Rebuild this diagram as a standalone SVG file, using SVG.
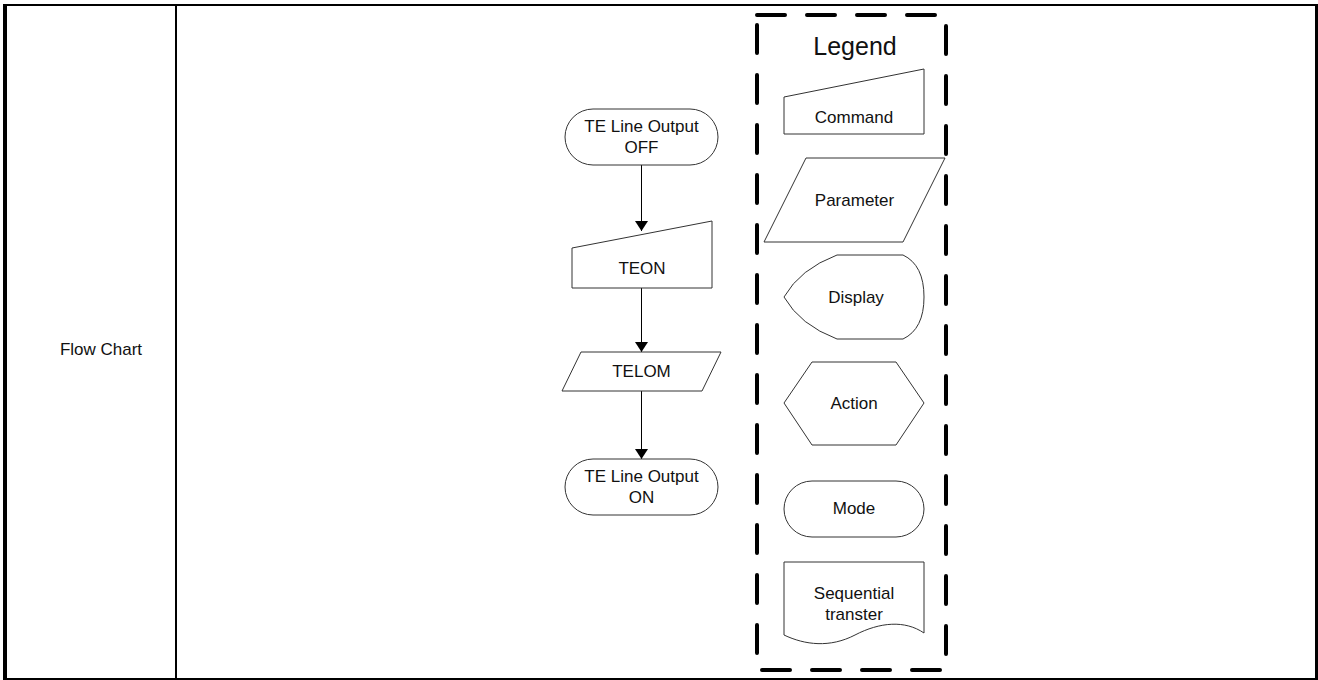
<svg xmlns="http://www.w3.org/2000/svg" width="1318" height="680" viewBox="0 0 1318 680">
<style>
.frame{fill:none;stroke:#000;}
.shape{fill:#fff;stroke:#333;stroke-width:1;}
.conn{fill:none;stroke:#000;stroke-width:1;}
.t{font-family:"Liberation Sans",Arial,sans-serif;font-size:17px;fill:#111;text-anchor:middle;dominant-baseline:central;}
.legend-box{fill:none;stroke:#000;stroke-width:4;stroke-dasharray:28 22;stroke-linecap:round;}
</style>
<defs>
<marker id="arrow" viewBox="0 0 10 13" refX="10" refY="6.5" markerWidth="10" markerHeight="13" markerUnits="userSpaceOnUse" orient="auto">
<path d="M0,0 L10,6.5 L0,13 Z" fill="#000"/>
</marker>
</defs>
<rect x="0" y="0" width="1318" height="680" fill="#fff"/>
<g id="table">
<line class="frame" x1="5" y1="4" x2="5" y2="680" stroke-width="4"/>
<line class="frame" x1="3" y1="5" x2="1318" y2="5" stroke-width="2"/>
<line class="frame" x1="1316.5" y1="4" x2="1316.5" y2="680" stroke-width="3"/>
<line class="frame" x1="3" y1="679" x2="1318" y2="679" stroke-width="2"/>
<line class="frame" x1="176" y1="5" x2="176" y2="680" stroke-width="2"/>
<text class="t" x="101" y="349">Flow Chart</text>
</g>
<g id="connectors">
<line class="conn" x1="641.5" y1="165" x2="641.5" y2="231" marker-end="url(#arrow)"/>
<line class="conn" x1="641.5" y1="288" x2="641.5" y2="352" marker-end="url(#arrow)"/>
<line class="conn" x1="641.5" y1="391" x2="641.5" y2="459" marker-end="url(#arrow)"/>
</g>
<g id="node-off">
<rect class="shape" x="565" y="109" width="153" height="56" rx="28"/>
<text class="t" x="641.5" y="126">TE Line Output</text>
<text class="t" x="641.5" y="147">OFF</text>
</g>
<g id="node-teon">
<path class="shape" d="M572,248 L712,221 L712,288 L572,288 Z"/>
<text class="t" x="642" y="268">TEON</text>
</g>
<g id="node-telom">
<path class="shape" d="M581,352 L721,352 L702,391 L562,391 Z"/>
<text class="t" x="641.5" y="371">TELOM</text>
</g>
<g id="node-on">
<rect class="shape" x="565" y="459" width="153" height="56" rx="28"/>
<text class="t" x="641.5" y="476">TE Line Output</text>
<text class="t" x="641.5" y="497">ON</text>
</g>
<g id="legend">
<rect class="legend-box" x="757" y="15" width="189" height="655"/>
<text class="t" x="855" y="46" style="font-size:25px">Legend</text>
</g>
<g id="legend-command">
<path class="shape" d="M784,97 L924,69 L924,134 L784,134 Z"/>
<text class="t" x="854" y="117">Command</text>
</g>
<g id="legend-parameter">
<path class="shape" d="M806,158 L945,158 L903,242 L764,242 Z"/>
<text class="t" x="854.5" y="200">Parameter</text>
</g>
<g id="legend-display">
<path class="shape" d="M837,255 L903,255 Q924,265 924,297 Q924,329 903,339 L837,339 Q800,325 784,297 Q800,269 837,255 Z"/>
<text class="t" x="856" y="297">Display</text>
</g>
<g id="legend-action">
<path class="shape" d="M812,362 L896,362 L924,403 L896,445 L812,445 L784,403 Z"/>
<text class="t" x="854" y="403">Action</text>
</g>
<g id="legend-mode">
<rect class="shape" x="784" y="481" width="140" height="56" rx="28"/>
<text class="t" x="854" y="508">Mode</text>
</g>
<g id="legend-sequential">
<path class="shape" d="M784,562 L924,562 L924,633 C905,620 880,622 855,635 C830,648 805,645 784,635 Z"/>
<text class="t" x="854" y="593">Sequential</text>
<text class="t" x="854" y="614">transter</text>
</g>
</svg>
